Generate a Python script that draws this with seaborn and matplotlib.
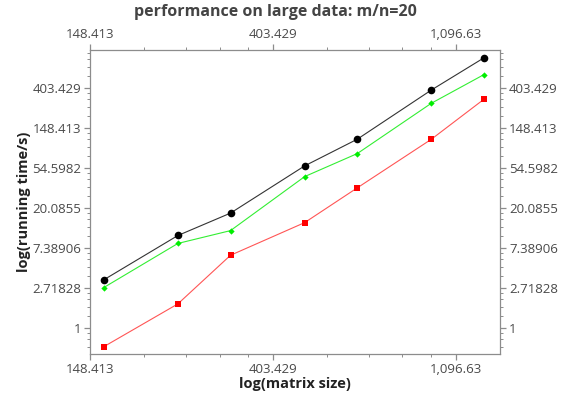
import numpy as np
import pandas as pd
import matplotlib
matplotlib.use("Agg")
import matplotlib.pyplot as plt
from matplotlib.ticker import FixedLocator, FuncFormatter, NullFormatter
import seaborn as sns

# data
matrix_size = [160, 240, 320, 480, 640, 960, 1280]
time_black = [3.3, 10.0, 17.5, 57, 111, 380, 850]
time_green = [2.72, 8.2, 11.3, 43.6, 77.5, 273, 559]
time_red = [0.62, 1.81, 6.1, 13.8, 32.9, 111, 302]

sns.set_style("white")
plt.rcParams['font.family'] = ['Open Sans', 'DejaVu Sans']

text_col = "#4a4a4a"
frame_col = "#8c8c8c"

fig = plt.figure(figsize=(5.61, 4.03), dpi=100)
ax = fig.add_axes([90 / 561, 1 - 354 / 403, 410 / 561, 304 / 403])

df = pd.DataFrame({"size": matrix_size, "black": time_black,
                   "green": time_green, "red": time_red})

sns.lineplot(data=df, x="size", y="black", ax=ax, color="#333333", lw=0.8,
             marker="o", markersize=5.5, markeredgewidth=0, markerfacecolor="black")
sns.lineplot(data=df, x="size", y="green", ax=ax, color="#33ee33", lw=0.8,
             marker="D", markersize=3.2, markeredgewidth=0, markerfacecolor="#00ee00")
sns.lineplot(data=df, x="size", y="red", ax=ax, color="#ff5555", lw=0.8,
             marker="s", markersize=5, markeredgewidth=0, markerfacecolor="#ff0000")

ax.set_xscale("log")
ax.set_yscale("log")
ax.set_xlim(np.exp(5.0), np.exp(7.242))
ax.set_ylim(np.exp(-0.66), np.exp(6.94))

# major ticks at powers of e, minor ticks splitting each gap in five
majors = np.exp(np.arange(-1, 9))
minors = np.concatenate([np.linspace(majors[i], majors[i + 1], 6)[1:-1]
                         for i in range(len(majors) - 1)])
fmt = FuncFormatter(lambda v, p: f"{v:,.6g}")
for axis in (ax.xaxis, ax.yaxis):
    axis.set_major_locator(FixedLocator(majors))
    axis.set_minor_locator(FixedLocator(minors))
    axis.set_major_formatter(fmt)
    axis.set_minor_formatter(NullFormatter())

ax.tick_params(which="both", direction="out", color=frame_col, labelcolor=text_col,
               labelsize=9.5, top=True, right=True, labeltop=True, labelright=True,
               bottom=True, left=True)
ax.tick_params(which="major", length=4.5, width=0.9, pad=2)
ax.tick_params(which="minor", length=2.5, width=0.7)

for s in ax.spines.values():
    s.set_color(frame_col)
    s.set_linewidth(0.9)

ax.set_xlabel("log(matrix size)", fontsize=10.5, fontweight="bold", color="#222222", labelpad=1)
ax.set_ylabel("log(running time/s)", fontsize=10.5, fontweight="bold", color="#222222", labelpad=1)
fig.text(275 / 561, 1 - 12 / 403, "performance on large data: m/n=20", ha="center",
         va="center", fontsize=11.5, fontweight="bold", color="#444444")

fig.savefig("out.png", dpi=100)
